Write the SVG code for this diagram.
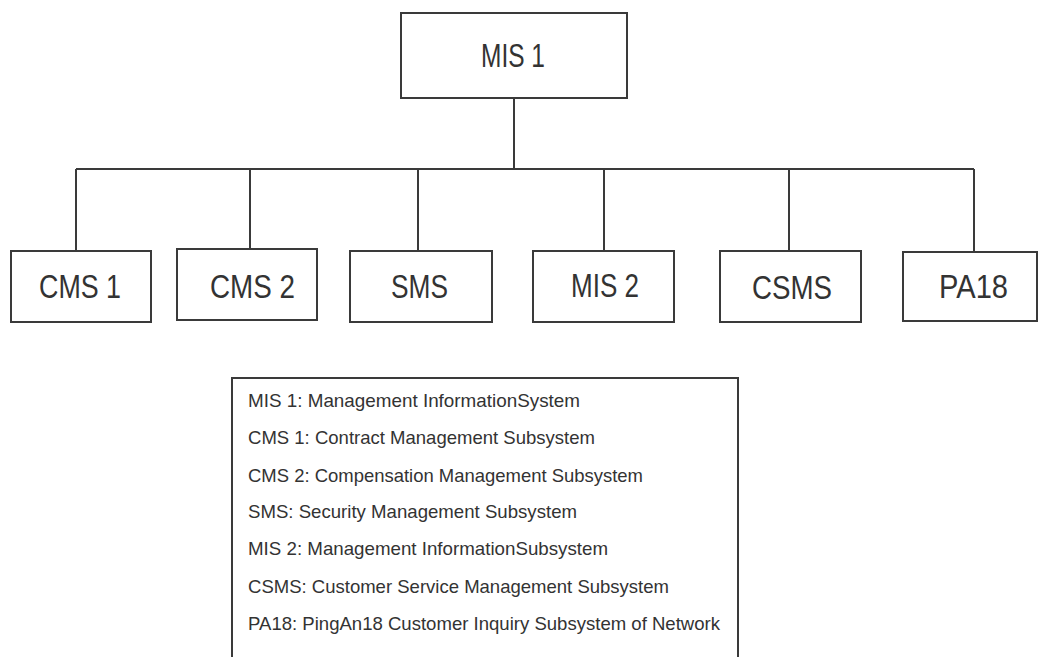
<svg xmlns="http://www.w3.org/2000/svg" width="1039" height="657" viewBox="0 0 1039 657">
<style>
.box{fill:#fff;stroke:#3a3a3a;stroke-width:2}
.ln{fill:none;stroke:#3a3a3a;stroke-width:2}
.nt{font-family:"Liberation Sans",Arial,sans-serif;fill:#333;font-size:33px}
.lt{font-family:"Liberation Sans",Arial,sans-serif;fill:#333;font-size:18.5px}
</style>
<rect width="1039" height="657" fill="#fff"/>
<g id="connectors">
<path class="ln" d="M514,98 V169 M76,169 H974 M76,169 V251 M250,169 V249 M418,169 V251 M604,169 V251 M789,169 V251 M974,169 V252"/>
</g>
<g id="mis1">
<rect class="box" x="401" y="13" width="226" height="85"/>
<text class="nt" x="481" y="67" textLength="64" lengthAdjust="spacingAndGlyphs">MIS 1</text>
</g>
<g id="cms1">
<rect class="box" x="11" y="251" width="140" height="71"/>
<text class="nt" x="39" y="298" textLength="82" lengthAdjust="spacingAndGlyphs">CMS 1</text>
</g>
<g id="cms2">
<rect class="box" x="177" y="249" width="140" height="71"/>
<text class="nt" x="210" y="298" textLength="85" lengthAdjust="spacingAndGlyphs">CMS 2</text>
</g>
<g id="sms">
<rect class="box" x="350" y="251" width="142" height="71"/>
<text class="nt" x="391" y="298" textLength="57" lengthAdjust="spacingAndGlyphs">SMS</text>
</g>
<g id="mis2">
<rect class="box" x="533" y="251" width="141" height="71"/>
<text class="nt" x="571" y="297" textLength="68" lengthAdjust="spacingAndGlyphs">MIS 2</text>
</g>
<g id="csms">
<rect class="box" x="720" y="251" width="141" height="71"/>
<text class="nt" x="752" y="299" textLength="80" lengthAdjust="spacingAndGlyphs">CSMS</text>
</g>
<g id="pa18">
<rect class="box" x="903" y="252" width="134" height="69"/>
<text class="nt" x="939" y="298" textLength="69" lengthAdjust="spacingAndGlyphs">PA18</text>
</g>
<g id="legend">
<path class="ln" d="M232,660 V378 H738 V660"/>
<text class="lt" x="248" y="407" textLength="332" lengthAdjust="spacingAndGlyphs">MIS 1: Management InformationSystem</text>
<text class="lt" x="248" y="444" textLength="347" lengthAdjust="spacingAndGlyphs">CMS 1: Contract Management Subsystem</text>
<text class="lt" x="248" y="482" textLength="395" lengthAdjust="spacingAndGlyphs">CMS 2: Compensation Management Subsystem</text>
<text class="lt" x="248" y="518" textLength="329" lengthAdjust="spacingAndGlyphs">SMS: Security Management Subsystem</text>
<text class="lt" x="248" y="555" textLength="360" lengthAdjust="spacingAndGlyphs">MIS 2: Management InformationSubsystem</text>
<text class="lt" x="248" y="593" textLength="421" lengthAdjust="spacingAndGlyphs">CSMS: Customer Service Management Subsystem</text>
<text class="lt" x="248" y="630" textLength="472" lengthAdjust="spacingAndGlyphs">PA18: PingAn18 Customer Inquiry Subsystem of Network</text>
</g>
</svg>
